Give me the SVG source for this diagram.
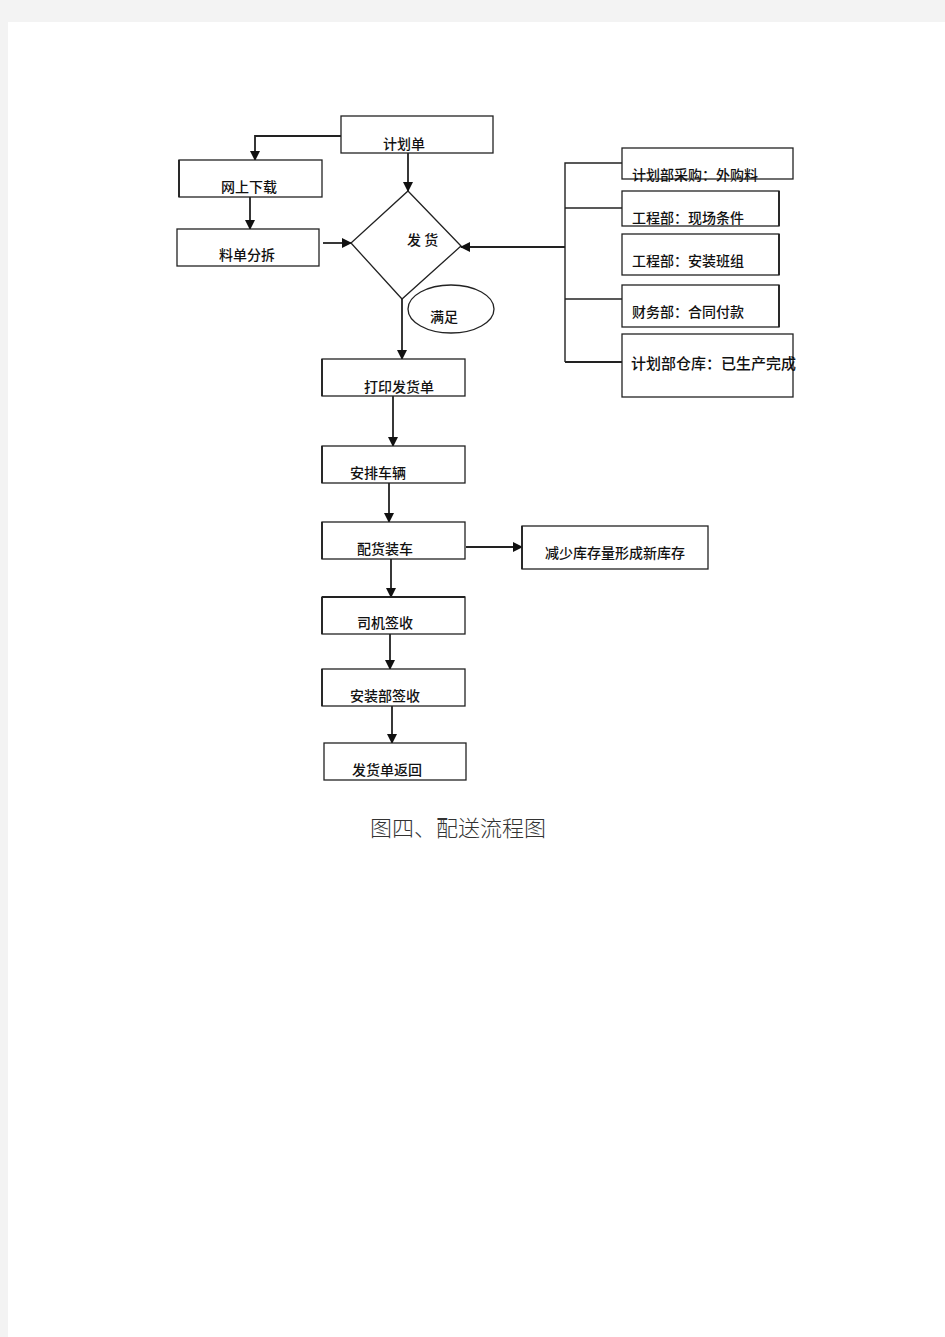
<svg xmlns="http://www.w3.org/2000/svg" width="945" height="1337" viewBox="0 0 945 1337">
<defs>
<style>
.box{fill:#fff;stroke:#222;stroke-width:1.3}
.t{font-family:"Noto Sans CJK SC",sans-serif;font-size:14px;font-weight:500;fill:#111}
.ln{fill:none;stroke:#222;stroke-width:1.8}
.thin{fill:none;stroke:#222;stroke-width:1.4}
</style>
<marker id="ah" markerWidth="10" markerHeight="10" refX="9" refY="5" orient="auto" markerUnits="userSpaceOnUse">
<path d="M0,0 L10,5 L0,10 Z" fill="#111"/>
</marker>
</defs>
<rect x="0" y="0" width="945" height="1337" fill="#f3f3f3"/>
<rect x="8" y="22" width="937" height="1315" fill="#fff"/>

<g id="connectors">
<path class="ln" d="M341,136 H255 V160" marker-end="url(#ah)"/>
<path class="ln" d="M250,197 V229" marker-end="url(#ah)"/>
<path class="ln" d="M323,243 H351" marker-end="url(#ah)"/>
<path class="ln" d="M408,153 V191" marker-end="url(#ah)"/>
<path class="thin" d="M622,163 H565 V362"/>
<path class="thin" d="M565,208 H622"/>
<path class="thin" d="M565,299 H622"/>
<path class="ln" d="M565,362 H622"/>
<path class="ln" d="M565,247 H461" marker-end="url(#ah)"/>
<path class="ln" d="M402,299 V359" marker-end="url(#ah)"/>
<path class="ln" d="M393,396 V446" marker-end="url(#ah)"/>
<path class="ln" d="M389,483 V522" marker-end="url(#ah)"/>
<path class="ln" d="M466,547 H522" marker-end="url(#ah)"/>
<path class="ln" d="M391,559 V597" marker-end="url(#ah)"/>
<path class="ln" d="M390,634 V669" marker-end="url(#ah)"/>
<path class="ln" d="M392,706 V743" marker-end="url(#ah)"/>
</g>

<g id="n-jihuadan"><rect class="box" x="341" y="116" width="152" height="37"/><text class="t" x="383" y="149">计划单</text></g>
<g id="n-wangshang"><rect class="box" x="179" y="160" width="143" height="37"/><path class="ln" d="M179,160 V197"/><text class="t" x="221" y="192">网上下载</text></g>
<g id="n-liaodan"><rect class="box" x="177" y="229" width="142" height="37"/><text class="t" x="219" y="260">料单分拆</text></g>
<g id="n-fahuo"><polygon class="box" points="408,191 461,246 402,299 351,243"/><text class="t" x="407" y="245">发 货</text></g>
<g id="n-manzu"><ellipse class="box" cx="451" cy="309" rx="43" ry="24"/><text class="t" x="430" y="322">满足</text></g>

<g id="n-r1"><rect class="box" x="622" y="148" width="171" height="31"/><text class="t" x="632" y="180">计划部采购：外购料</text></g>
<g id="n-r2"><rect class="box" x="622" y="191" width="157" height="35"/><path class="ln" d="M779,191 V226"/><text class="t" x="632" y="223">工程部：现场条件</text></g>
<g id="n-r3"><rect class="box" x="622" y="234" width="157" height="41"/><path class="ln" d="M779,234 V275"/><text class="t" x="632" y="266">工程部：安装班组</text></g>
<g id="n-r4"><rect class="box" x="622" y="285" width="157" height="42"/><path class="ln" d="M779,285 V327"/><text class="t" x="632" y="317">财务部：合同付款</text></g>
<g id="n-r5"><rect class="box" x="622" y="334" width="171" height="63"/><text class="t" x="631" y="369" style="font-size:15px">计划部仓库：已生产完成</text></g>

<g id="n-dayin"><rect class="box" x="322" y="359" width="143" height="37"/><path class="ln" d="M322,359 V396"/><text class="t" x="364" y="392">打印发货单</text></g>
<g id="n-anpai"><rect class="box" x="322" y="446" width="143" height="37"/><path class="ln" d="M322,446 V483"/><text class="t" x="350" y="478">安排车辆</text></g>
<g id="n-peihuo"><rect class="box" x="322" y="522" width="143" height="37"/><path class="ln" d="M322,522 V559"/><text class="t" x="357" y="554">配货装车</text></g>
<g id="n-jianshao"><rect class="box" x="522" y="526" width="186" height="43"/><path class="ln" d="M522,526 V569"/><text class="t" x="545" y="558">减少库存量形成新库存</text></g>
<g id="n-siji"><rect class="box" x="322" y="597" width="143" height="37"/><path class="ln" d="M322,597 H465 M322,597 V634"/><text class="t" x="357" y="628">司机签收</text></g>
<g id="n-anzhuang"><rect class="box" x="322" y="669" width="143" height="37"/><path class="ln" d="M322,669 V706"/><text class="t" x="350" y="701">安装部签收</text></g>
<g id="n-fanhui"><rect class="box" x="324" y="743" width="142" height="37"/><text class="t" x="352" y="775">发货单返回</text></g>

<text x="370" y="836" style="font-family:'Noto Sans CJK SC',sans-serif;font-size:22px;fill:#333;font-weight:300">图四、配送流程图</text>
</svg>
